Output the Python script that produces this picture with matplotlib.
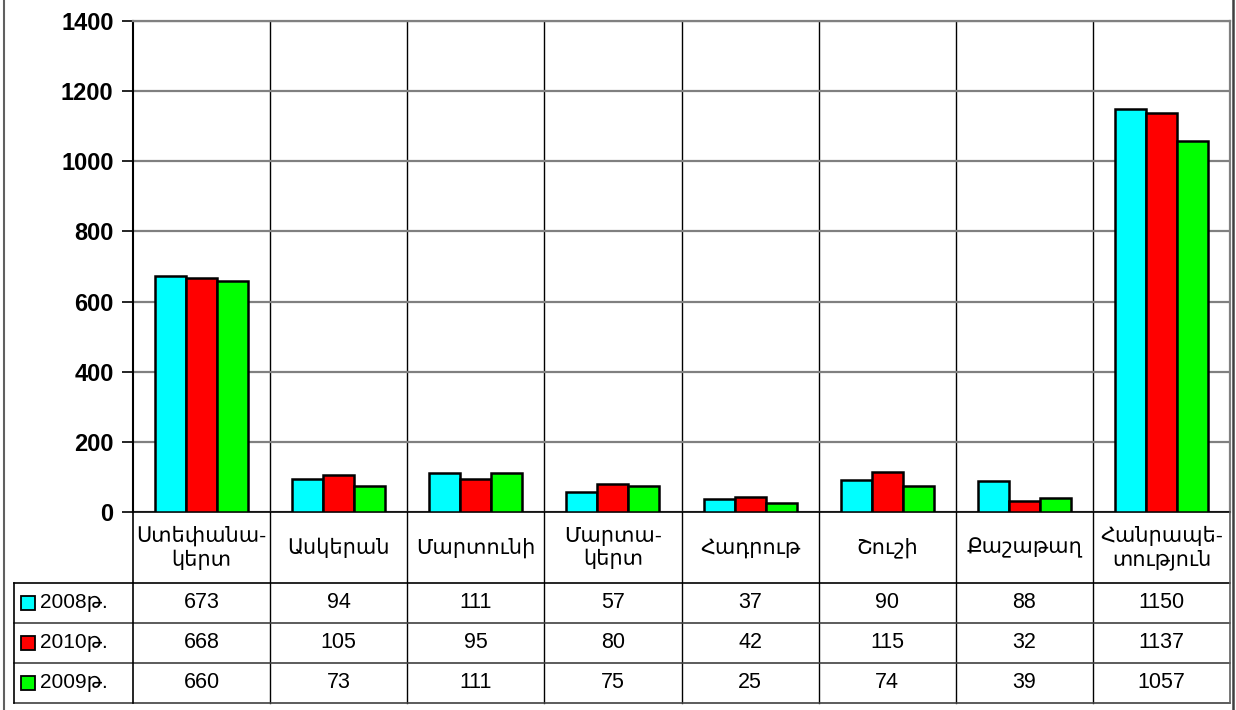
import matplotlib.pyplot as plt
import matplotlib.transforms as mtransforms
from matplotlib.patches import Rectangle
import numpy as np

# ── Data ──────────────────────────────────────────────────────────────────────
CATEGORIES = ["Ստեփանա-\nկերտ", "Ասկերան", "Մարտունի", "Մարտա-\nկերտ",
              "Հադրութ", "Շուշի", "Քաշաթաղ", "Հանրապե-\nտություն"]
SERIES_NAMES = ["2008թ.", "2010թ.", "2009թ."]
VALS_2008 = [673, 94, 111, 57, 37, 90, 88, 1150]
VALS_2010 = [668, 105, 95, 80, 42, 115, 32, 1137]
VALS_2009 = [660, 73, 111, 75, 25, 74, 39, 1057]
SERIES = [VALS_2008, VALS_2010, VALS_2009]
COLORS = ["#00FFFF", "#FF0000", "#00FF00"]
Y_TICKS = [0, 200, 400, 600, 800, 1000, 1200, 1400]

plt.rcParams["font.family"] = ["Liberation Sans", "DejaVu Sans"]

W, H = 1236, 710
fig = plt.figure(figsize=(W / 100, H / 100), dpi=100)

# plot area in pixel coordinates
left, right, top, bottom = 133, 1230, 21, 512
ax = fig.add_axes([left / W, 1 - bottom / H, (right - left) / W, (bottom - top) / H])

n = len(CATEGORIES)
x = np.arange(n)
bw = 0.226
for k, (vals, col) in enumerate(zip(SERIES, COLORS)):
    ax.bar(x + (k - 1) * bw, vals, width=bw, color=col, edgecolor="black",
           linewidth=1.8, zorder=3)

ax.set_xlim(-0.5, n - 0.5)
ax.set_ylim(0, 1400)
ax.set_yticks(Y_TICKS)
ax.set_yticklabels([str(v) for v in Y_TICKS], fontsize=17, fontweight="bold")
ax.tick_params(axis="y", direction="out", length=8, width=1.2, pad=6)
ax.set_xticks([])
ax.yaxis.grid(True, color="#808080", linewidth=1.6, zorder=0)
for b in np.arange(0.5, n - 1, 1.0):
    ax.axvline(b, color="black", linewidth=1.0, zorder=1)

for s in ["top", "right"]:
    ax.spines[s].set_color("#808080")
    ax.spines[s].set_linewidth(1.6)
ax.spines["left"].set_color("black")
ax.spines["left"].set_linewidth(1.5)
ax.spines["bottom"].set_color("black")
ax.spines["bottom"].set_linewidth(1.2)

# ── Data table below the plot ─────────────────────────────────────────────────
tr = mtransforms.blended_transform_factory(ax.transData, fig.transFigure)


def fy(py):
    return 1 - py / H


def fx(px):
    return px / W


row_edges = [512, 583, 623, 663, 703]
lw = 1.2
# horizontal lines
fig.add_artist(plt.Line2D([fx(left), fx(right)], [fy(583), fy(583)], color="black", lw=lw))
fig.add_artist(plt.Line2D([fx(14), fx(left)], [fy(583), fy(583)], color="black", lw=lw))
for py in row_edges[2:]:
    fig.add_artist(plt.Line2D([fx(14), fx(right)], [fy(py), fy(py)], color="#404040", lw=lw))
# vertical lines
fig.add_artist(plt.Line2D([fx(14), fx(14)], [fy(583), fy(703)], color="black", lw=lw))
fig.add_artist(plt.Line2D([fx(left), fx(left)], [fy(512), fy(703)], color="black", lw=lw))
fig.add_artist(plt.Line2D([fx(right), fx(right)], [fy(512), fy(703)], color="#606060", lw=lw))
for b in np.arange(0.5, n - 1, 1.0):
    ax.plot([b, b], [fy(512), fy(703)], transform=tr, color="black", lw=1.0,
            clip_on=False)

# header labels
for i, lab in enumerate(CATEGORIES):
    ax.text(i, fy(548), lab, transform=tr, ha="center", va="center",
            fontsize=15, linespacing=1.2, clip_on=False)

# values + legend keys
for r, (name, vals, col) in enumerate(zip(SERIES_NAMES, SERIES, COLORS)):
    yc = (row_edges[r + 1] + row_edges[r + 2]) / 2
    for i, v in enumerate(vals):
        ax.text(i, fy(yc), str(v), transform=tr, ha="center", va="center",
                fontsize=15.5, clip_on=False)
    fig.add_artist(Rectangle((fx(21), fy(yc + 7)), 14 / W, 14 / H,
                             facecolor=col, edgecolor="black", lw=1.3))
    fig.text(fx(40), fy(yc), name, ha="left", va="center", fontsize=15)

# outer chart border
fig.add_artist(plt.Line2D([fx(4), fx(4)], [0, 1], color="#606060", lw=1.5))
fig.add_artist(plt.Line2D([fx(1233), fx(1233)], [0, 1], color="#404040", lw=1.8))

fig.savefig("out.png", dpi=100)
